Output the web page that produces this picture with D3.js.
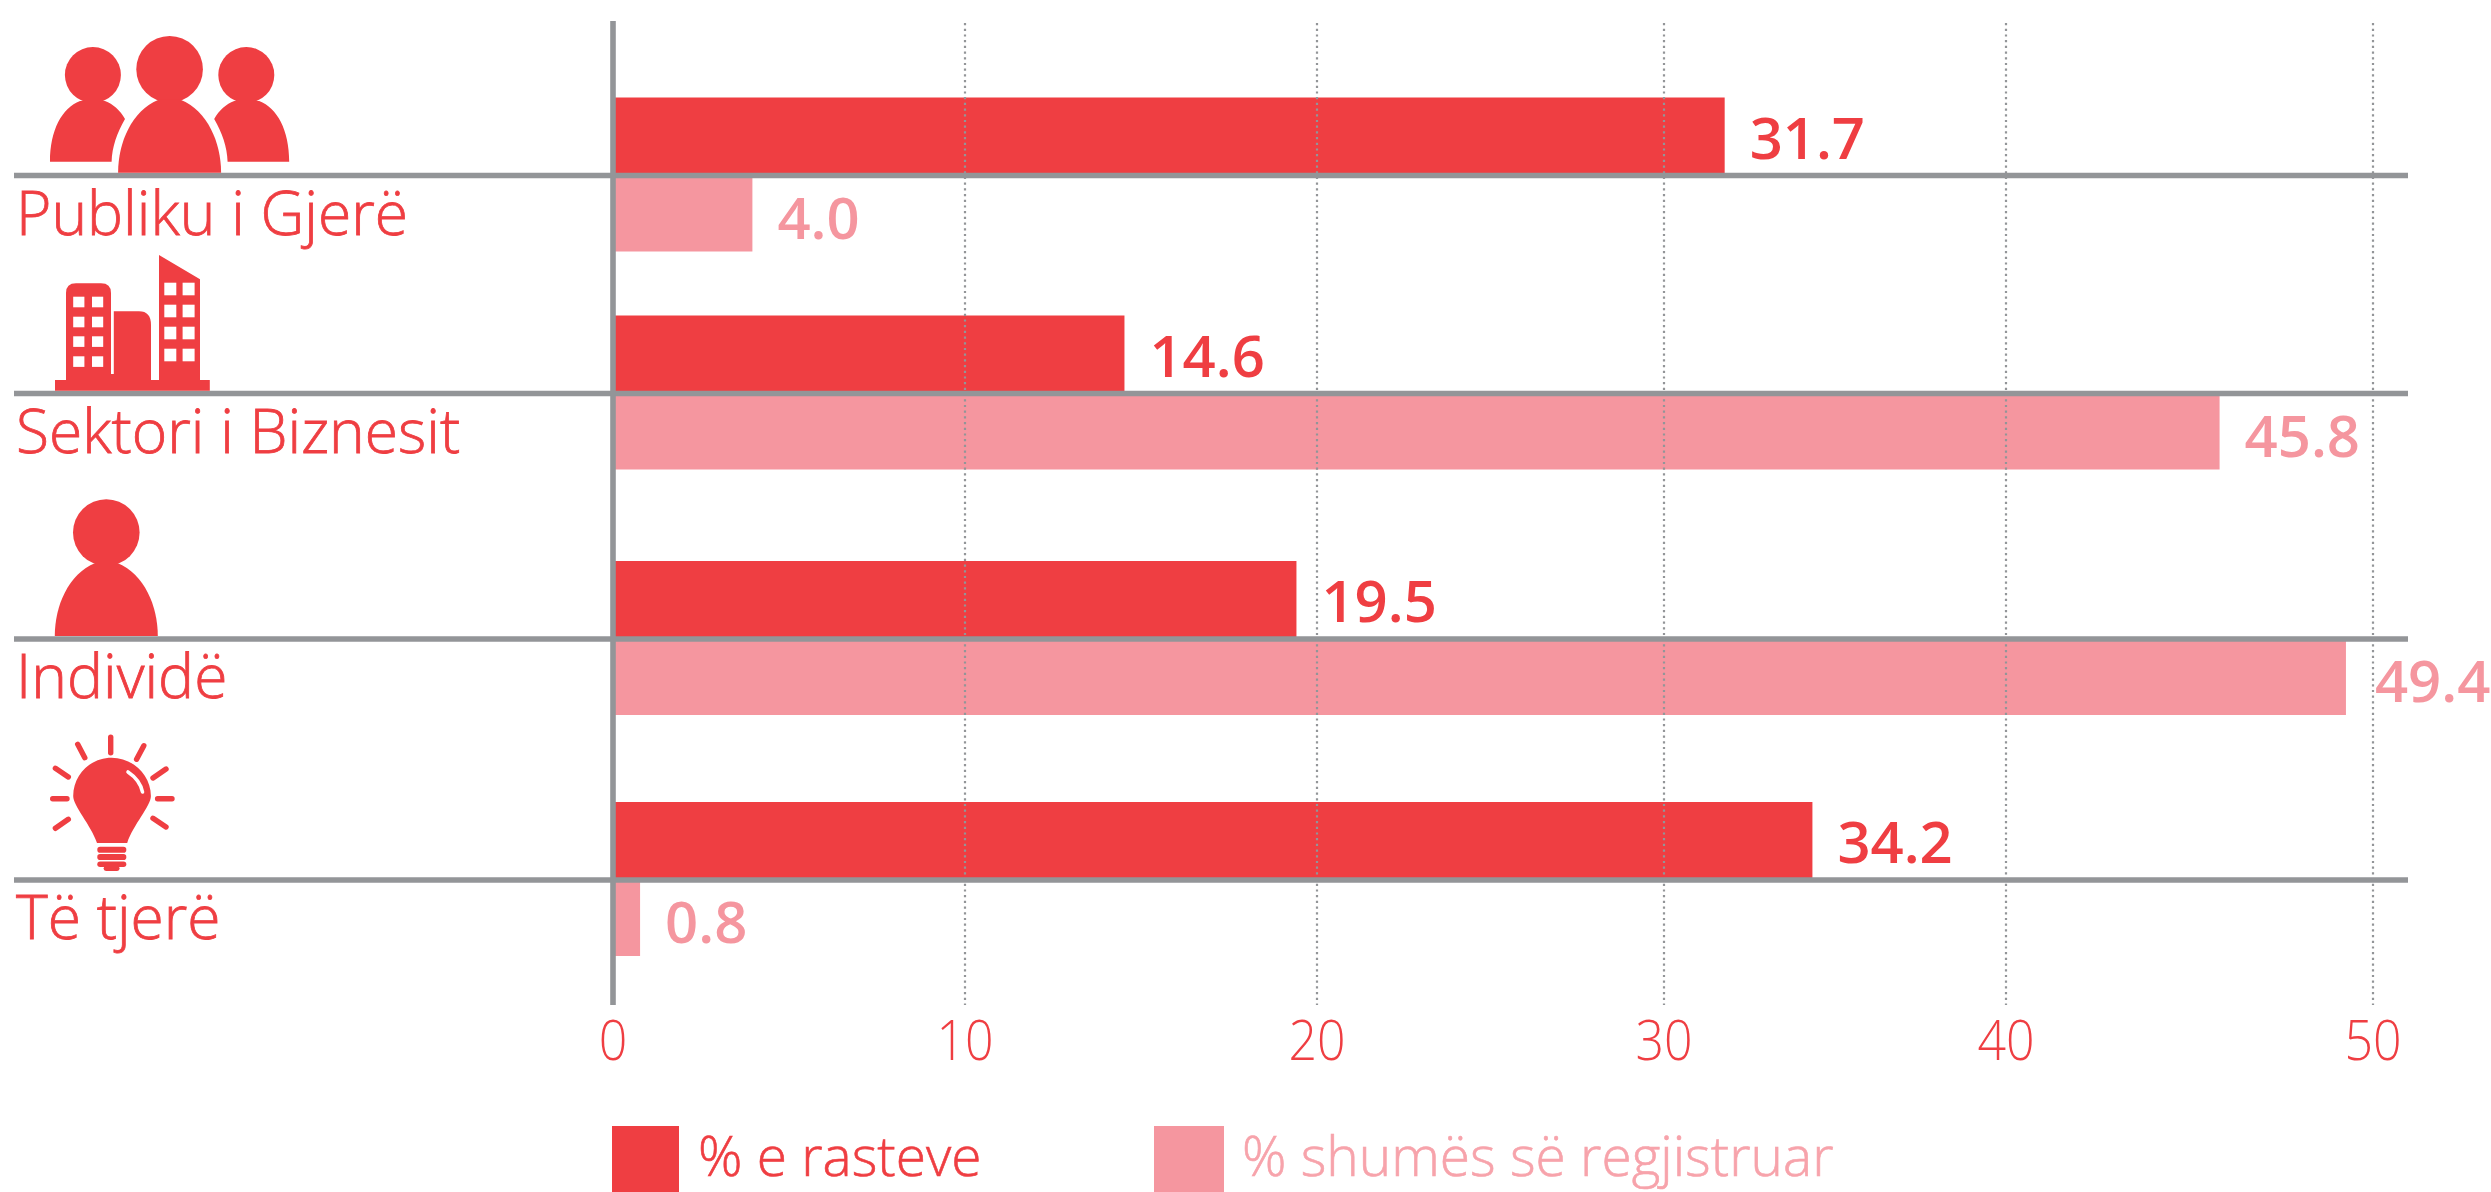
<!DOCTYPE html>
<html>
<head>
<meta charset="utf-8">
<script src="https://cdn.jsdelivr.net/npm/d3@7"></script>
<style>
  html, body { margin: 0; padding: 0; background: #fff; overflow: hidden; }
  svg { display: block; font-family: "Open Sans", sans-serif; }
</style>
</head>
<body>
<svg id="chart" width="2491" height="1192"></svg>
<script>
const categories = ["Publiku i Gjerë", "Sektori i Biznesit", "Individë", "Të tjerë"];
const seriesNames = ["% e rasteve", "% shumës së regjistruar"];
const casesShare = [31.7, 14.6, 19.5, 34.2];
const amountShare = [4.0, 45.8, 49.4, 0.8];
const xTicks = [0, 10, 20, 30, 40, 50];

const dark = "#ef3e42", light = "#f5969f", grey = "#939598";

const svg = d3.select("#chart");

// bars follow a straight scale, the printed ticks were placed a little unevenly
const x = d3.scaleLinear().domain([0, 50]).range([612, 2367]);
const tickX = d3.scaleLinear().domain(xTicks).range([613, 965, 1317, 1664, 2006, 2373]);
const rowY = d3.scaleOrdinal().domain(categories).range([175.5, 393.5, 639, 880]);

const rows = categories.map((name, i) => ({ name, cases: casesShare[i], amount: amountShare[i] }));

const row = svg.selectAll("g.row")
    .data(rows)
    .enter()
    .append("g")
    .attr("class", "row")
    .attr("transform", d => `translate(0,${rowY(d.name)})`);

row.append("rect")
    .attr("x", x(0))
    .attr("y", -78)
    .attr("width", d => x(d.cases) - x(0))
    .attr("height", 78)
    .attr("fill", dark);

row.append("rect")
    .attr("x", x(0))
    .attr("y", 0)
    .attr("width", d => x(d.amount) - x(0))
    .attr("height", 76)
    .attr("fill", light);

row.append("line")
    .attr("x1", 14)
    .attr("x2", 2408)
    .attr("stroke", grey)
    .attr("stroke-width", 5.6);

// light face with a hairline stroke, the original weight sits between light and regular
row.append("text")
    .attr("x", 16)
    .attr("y", 59)
    .attr("fill", dark)
    .attr("stroke", dark)
    .attr("stroke-width", 0.8)
    .style("font-size", "60.5px")
    .style("font-weight", 300)
    .text(d => d.name);

row.append("text")
    .attr("x", d => x(d.cases) + 25)
    .attr("y", -17)
    .attr("fill", dark)
    .style("font-size", "58px")
    .style("font-weight", 600)
    .text(d => d.cases.toFixed(1));

// the 49.4 label gets a small extra gap, it sits further from its bar
row.append("text")
    .attr("x", d => x(d.amount) + (d.amount > 49 ? 29 : 25))
    .attr("y", 63)
    .attr("fill", light)
    .style("font-size", "58px")
    .style("font-weight", 600)
    .text(d => d.amount.toFixed(1));

// vertical zero line
svg.append("line")
    .attr("x1", tickX(0)).attr("x2", tickX(0))
    .attr("y1", 21).attr("y2", 1005)
    .attr("stroke", grey)
    .attr("stroke-width", 5.6);

// dotted grid
const grid = svg.append("g")
    .attr("transform", "translate(0,23)")
    .call(d3.axisBottom(tickX).tickValues(xTicks.slice(1)).tickSize(982).tickFormat("").offset(0));
grid.select(".domain").remove();
grid.selectAll("line")
    .attr("stroke", grey)
    .attr("stroke-width", 2.2)
    .attr("stroke-dasharray", "2.2 3.5");

// tick labels, narrower than the plain font in the original
const axis = svg.append("g")
    .attr("transform", "translate(0,1060)")
    .call(d3.axisBottom(tickX).tickValues(xTicks).tickSize(0).tickPadding(0).offset(0));
axis.select(".domain").remove();
axis.selectAll("text")
    .attr("y", 0)
    .attr("dy", 0)
    .attr("transform", "scale(0.91,1)")
    .attr("fill", dark)
    .style("font-family", "'Open Sans', sans-serif")
    .style("font-size", "55px")
    .style("font-weight", 300);

// legend
const legendX = [612, 1154];
const legendW = [67, 70];
const legendTextX = [698, 1242];
const legend = svg.selectAll("g.legend")
    .data(seriesNames)
    .enter()
    .append("g")
    .attr("class", "legend");
legend.append("rect")
    .attr("x", (d, i) => legendX[i])
    .attr("y", 1126)
    .attr("width", (d, i) => legendW[i])
    .attr("height", 66)
    .attr("fill", (d, i) => i ? light : dark);
legend.append("text")
    .attr("x", (d, i) => legendTextX[i])
    .attr("y", 1176)
    .attr("fill", (d, i) => i ? "#f7a3ab" : dark)
    .attr("stroke", (d, i) => i ? "#f7a3ab" : dark)
    .attr("stroke-width", 0.6)
    .style("font-size", "55px")
    .style("font-weight", 300)
    .text(d => d);

// icons
const icons = svg.append("g").attr("fill", dark);

// person: origin at the foot of the body, on the row line
function person(g) {
    g.append("circle").attr("cx", 0).attr("cy", -103.4).attr("r", 33.3);
    g.append("path").attr("d", "M-51.5,0 C-51.5,-30 -38,-62 -11,-73 L11,-73 C38,-62 51.5,-30 51.5,0 Z");
}
person(icons.append("g").attr("transform", "translate(169.6,172.7)"));
person(icons.append("g").attr("transform", "translate(106.3,636)"));

const sidePerson = "M50,161.7 C50,130 62,108 80,101 L105,101 C113,104 120,110 125,119 C117,133 112,147 111.6,161.7 Z";
[false, true].forEach(flip => {
    const g = icons.append("g").attr("transform", flip ? "translate(339.2,0) scale(-1,1)" : null);
    g.append("circle").attr("cx", 92.9).attr("cy", 75).attr("r", 28);
    g.append("path").attr("d", sidePerson);
});

// buildings
icons.append("path").attr("d",
    "M55,380 H66 V293 Q66,283.3 76,283.3 H101 Q111,283.3 111,293 V374 H113.8 V311.3 H139 Q151,311.3 151,325 V380 H159 V255 L200,279.3 V380 H209.8 V390.7 H55 Z");
const windows = [
    { xs: [73.2, 92], ys: [296.7, 316.7, 336.3, 356.3], w: 11.2, h: 10.6 },
    { xs: [164.3, 182.6], ys: [282.7, 304.7, 326.7, 348.7], w: 12, h: 12.6 }
];
windows.forEach(b => b.xs.forEach(wx => b.ys.forEach(wy => {
    icons.append("rect").attr("x", wx).attr("y", wy).attr("width", b.w).attr("height", b.h).attr("fill", "#fff");
})));

// bulb
icons.append("path").attr("d",
    "M97,843 C91,825 73.2,806 73.2,796 C73.2,775 90,757.7 111.6,757.7 C133,757.7 150.9,775 150.9,796 C150.9,806 133,825 127.2,843 Z");
icons.append("path")
    .attr("d", "M128,772 Q140,780 142.5,792")
    .attr("fill", "none")
    .attr("stroke", "#fff")
    .attr("stroke-width", 3.6)
    .attr("stroke-linecap", "round");
[[846.7, 6], [854, 6], [861.5, 5.5]].forEach(([by, bh]) => {
    icons.append("rect").attr("x", 97.3).attr("y", by).attr("width", 29).attr("height", bh).attr("rx", 2.8);
});
icons.append("rect").attr("x", 103.6).attr("y", 866).attr("width", 16).attr("height", 5).attr("rx", 2.4);
const rays = [
    [110.7, 737.3, 110.7, 752.7], [77.7, 744.3, 84.8, 757.7], [143.8, 745.7, 136.6, 759.3],
    [55.4, 768.3, 68.3, 777], [166, 769, 153, 778], [52.7, 798.7, 67, 798.7],
    [157.6, 798.7, 172, 798.7], [68.3, 819.3, 55.4, 828.3], [153, 818.3, 166, 827]
];
rays.forEach(r => {
    icons.append("line")
        .attr("x1", r[0]).attr("y1", r[1]).attr("x2", r[2]).attr("y2", r[3])
        .attr("stroke", dark)
        .attr("stroke-width", 5.4)
        .attr("stroke-linecap", "round");
});
</script>
</body>
</html>
